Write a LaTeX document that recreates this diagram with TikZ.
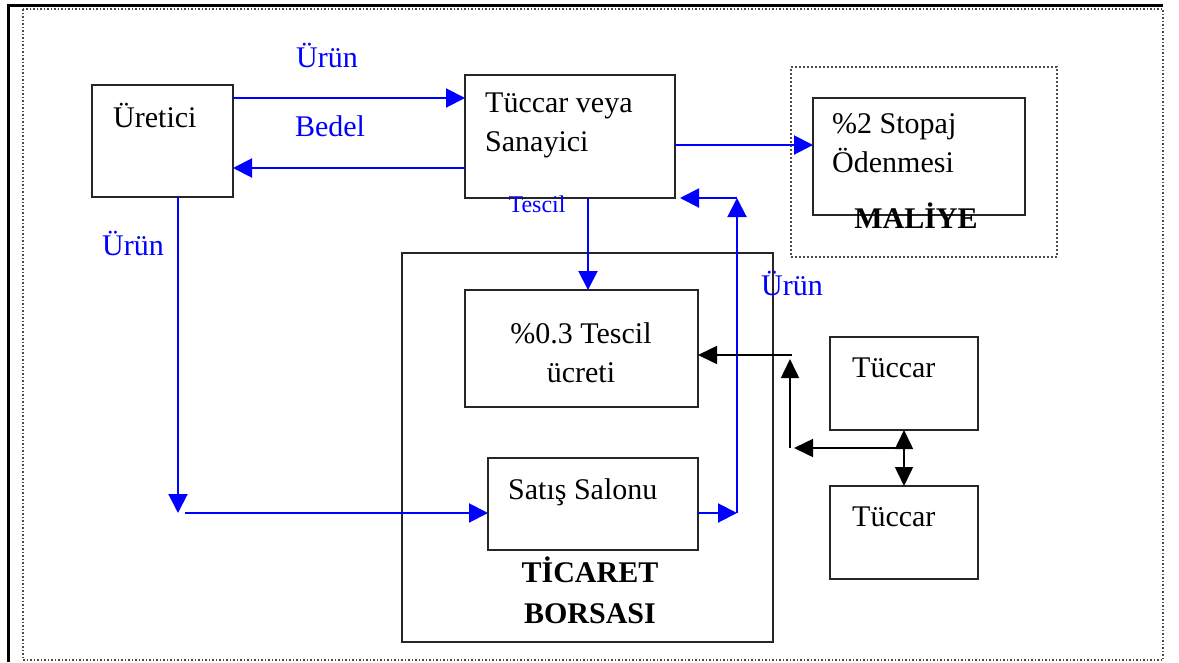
\documentclass[tikz,border=0pt]{standalone}
\usepackage{fontspec}
\setmainfont{Liberation Serif}
\usetikzlibrary{arrows.meta,positioning}

\tikzset{
  kutu/.style={draw=black!85, line width=2pt, inner sep=0pt, outer sep=0pt, anchor=north west},
  yazi/.style={font=\fontsize{30}{39}\selectfont, inner sep=0pt, anchor=base west, align=left},
  baslik/.style={font=\bfseries\fontsize{30}{41}\selectfont, inner sep=0pt, anchor=base, align=center},
  etiket/.style={text=blue, font=\fontsize{30}{36}\selectfont, inner sep=0pt, anchor=base},
  akis/.style={draw=blue, line width=2pt, -{Triangle[length=19pt,width=19pt]}},
  bag/.style={draw=black, line width=1.6pt, -{Triangle[length=19pt,width=18pt]}},
}

\begin{document}
\begin{tikzpicture}[x=1pt,y=-1pt]
\useasboundingbox (0,0) rectangle (1179,662);
% page frame
\draw[line width=3pt] (8,662) -- (8,5) -- (1163,5);
\draw[black!70, dotted, line width=1.5pt] (23,9) rectangle (1163,660);

% boxes
\node[kutu, minimum width=141pt, minimum height=112pt] (uretici) at (92,85) {};
\node[kutu, minimum width=210pt, minimum height=123pt] (tuccar) at (465,75) {};
\node[kutu, draw=black!70, dotted, line width=1.2pt, minimum width=266pt, minimum height=190pt] (maliye) at (791,67) {};
\node[kutu, minimum width=212pt, minimum height=117pt] (stopaj) at (813,98) {};
\node[kutu, minimum width=371pt, minimum height=389pt] (borsa) at (402,253) {};
\node[kutu, minimum width=233pt, minimum height=117pt] (tescil) at (465,290) {};
\node[kutu, minimum width=210pt, minimum height=92pt] (salon) at (488,458) {};
\node[kutu, minimum width=148pt, minimum height=93pt] (tuccarA) at (830,337) {};
\node[kutu, minimum width=148pt, minimum height=93pt] (tuccarB) at (830,486) {};

% texts in boxes (two-line nodes sit on their last baseline)
\node[yazi] (tUretici) at (113,127) {Üretici};
\node[yazi] (tTuccar) at (485,151) {Tüccar veya\\Sanayici};
\node[yazi] (tStopaj) at (832,172) {\%2 Stopaj\\Ödenmesi};
\node[yazi, anchor=base, align=center] (tTescil) at (581,382) {\%0.3 Tescil\\ücreti};
\node[yazi] (tSalon) at (508,499) {Satış Salonu};
\node[yazi] (tTuccarA) at (852,377) {Tüccar};
\node[yazi] (tTuccarB) at (852,526) {Tüccar};
\node[baslik] (tMaliye) at (916,228) {MALİYE};
\node[baslik] (tBorsa) at (590,623) {TİCARET\\BORSASI};

% blue flows
\draw[akis] (uretici.east |- 0,98) -- (tuccar.west |- 0,98);
\draw[akis] (tuccar.west |- 0,168) -- (uretici.east |- 0,168);
\draw[akis] (tuccar.east |- 0,145) -- (stopaj.west |- 0,145);
\draw[akis] (tuccar.south -| 588,0) -- (tescil.north -| 588,0);
\coordinate (kose) at (178,513);
\draw[akis] (uretici.south -| kose) -- (kose);
\draw[akis, shorten <=7pt] (kose) -- (salon.west |- kose);
\coordinate (sag) at (737,513);
\coordinate (ust) at (737,198);
\draw[akis] (salon.east |- sag) -- (sag);
\draw[akis] (sag) -- (ust);
\draw[akis] (ust) -- ([xshift=5pt]tuccar.south east);

% blue labels
\node[etiket] (lUrun1) at (327,67) {Ürün};
\node[etiket] (lBedel) at (330,136) {Bedel};
\node[etiket] (lUrun2) at (133,255) {Ürün};
\node[etiket, font=\fontsize{24}{28}\selectfont] (lTescil) at (537,212) {Tescil};
\node[etiket] (lUrun3) at (792,295) {Ürün};

% black links between traders
\coordinate (b1) at (792,355);
\coordinate (b2) at (790,448);
\coordinate (b3) at (905,448);
\draw[bag] (b1) -- (tescil.east |- b1);
\draw[bag] (b2) -- ([yshift=-4pt]b2 |- b1);
\draw[bag] (b3) -- ([xshift=4pt]b2);
\draw[bag, {Triangle[length=19pt,width=18pt]}-{Triangle[length=19pt,width=18pt]}] (tuccarA.south) -- (tuccarB.north);
\end{tikzpicture}
\end{document}
